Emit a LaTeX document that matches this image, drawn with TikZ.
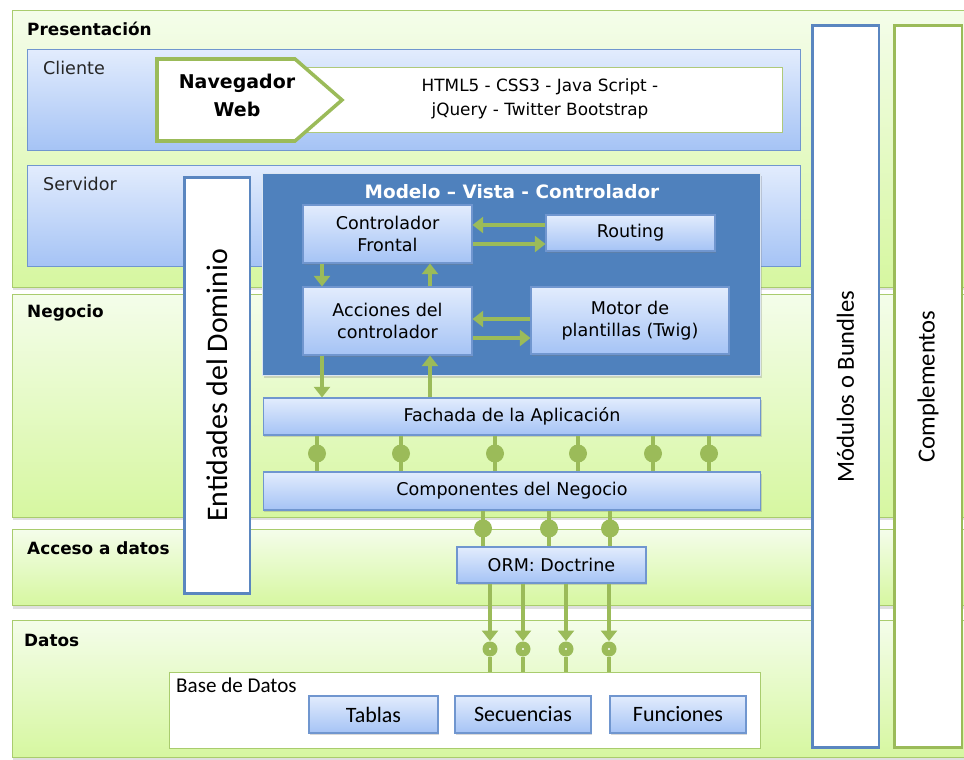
\documentclass[tikz,border=0pt]{standalone}
\usepackage{fontspec}
\setmainfont{DejaVu Sans}
\newfontfamily\calibrifont{Carlito}
\usetikzlibrary{arrows.meta,shadows}

\definecolor{bandline}{HTML}{A9CC6E}
\definecolor{bandtop}{HTML}{F4FDEA}
\definecolor{bandbottom}{HTML}{D6F7A0}
\definecolor{boxtop}{HTML}{E2ECFD}
\definecolor{boxbottom}{HTML}{A5C3F5}
\definecolor{boxline}{HTML}{7096CF}
\definecolor{mvcblue}{HTML}{4F81BD}
\definecolor{linkgreen}{HTML}{9BBB59}
\definecolor{sideblue}{HTML}{5A86C0}

\tikzset{
  band/.style={draw=bandline, line width=0.8pt, top color=bandtop, bottom color=bandbottom,
    anchor=north west, inner sep=0pt,
    drop shadow={shadow xshift=0pt, shadow yshift=-1.6pt, opacity=0.25}},
  panel/.style={draw=boxline, line width=0.7pt, top color=boxtop, bottom color=boxbottom,
    anchor=north west, inner sep=0pt},
  block/.style={draw=boxline, line width=0.6pt, top color=boxtop, bottom color=boxbottom,
    align=center, inner sep=0pt, font=\fontsize{10}{12.5}\selectfont,
    drop shadow={shadow xshift=0.8pt, shadow yshift=-1.2pt, opacity=0.3}},
  dbitem/.style={block, font=\calibrifont\fontsize{12.5}{14}\selectfont},
  layer/.style={anchor=west, font=\bfseries\fontsize{9.6}{11}\selectfont},
  part/.style={anchor=west, font=\fontsize{10}{12}\selectfont, text=black!85},
  sidebar/.style={draw=#1, line width=1.7pt, fill=white, rotate=90, inner sep=0pt,
    font=\calibrifont\fontsize{14}{16}\selectfont},
  flow/.style={draw=linkgreen, line width=2.1pt, -{Triangle[length=6pt,width=9pt]}},
  bus/.style={draw=linkgreen, line width=2.4pt},
  joint/.style={circle, fill=linkgreen, minimum size=0.36cm, inner sep=0pt},
  port/.style={circle, fill=linkgreen, minimum size=0.3cm, inner sep=0pt,
    path picture={\fill[white] (path picture bounding box.center) circle (0.7pt);}}
}

\begin{document}
\begin{tikzpicture}[x=0.02cm,y=-0.02cm]
  \useasboundingbox (0,0) rectangle (964,760);
  \fill[white] (0,0) rectangle (964,760);

  % the four layers
  \node[band, minimum width=19.08cm, minimum height=5.54cm] (presentacion) at (12,10) {};
  \node[band, minimum width=19.08cm, minimum height=4.46cm] (negocio) at (12,294) {};
  \node[band, minimum width=19.08cm, minimum height=1.52cm] (acceso) at (12,529) {};
  \node[band, minimum width=19.08cm, minimum height=2.74cm] (datos) at (12,620) {};
  \node[layer] at (21,29) {Presentación};
  \node[layer] at (21,313) {Negocio};
  \node[layer] at (21,548) {Acceso a datos};
  \node[layer] at (18,640) {Datos};

  % client and server
  \node[panel, minimum width=15.46cm, minimum height=2.02cm] (cliente) at (27,49) {};
  \node[panel, minimum width=15.46cm, minimum height=2.02cm] (servidor) at (27,165) {};
  \node[part] at (37,68) {Cliente};
  \node[part] at (37,184) {Servidor};

  % browser and its technologies
  \node[draw=linkgreen!80, line width=0.6pt, fill=white, anchor=north west, inner sep=0pt,
    minimum width=9.64cm, minimum height=1.3cm] (tecnologias) at (300,67) {};
  \node[align=center, font=\fontsize{9.6}{13.7}\selectfont] at (540,99)
    {HTML5 - CSS3 - Java Script -\\jQuery - Twitter Bootstrap};
  \draw[draw=linkgreen, line width=2pt, fill=white, line join=miter]
    (157,59) -- (295,59) -- (342,100) -- (295,141) -- (157,141) -- cycle;
  \node[align=center, font=\bfseries\fontsize{10.8}{16}\selectfont] (navegador) at (237,95)
    {Navegador\\Web};

  % domain entities
  \node[sidebar=sideblue, minimum width=8.34cm, minimum height=1.32cm,
    font=\calibrifont\fontsize{17}{19}\selectfont] (entidades) at (217,385.5) {Entidades del Dominio};

  % MVC
  \node[draw=white!80!mvcblue, line width=0.6pt, fill=mvcblue, anchor=north west, inner sep=0pt,
    minimum width=9.96cm, minimum height=4.04cm,
    drop shadow={shadow xshift=0.8pt, shadow yshift=-1.2pt, opacity=0.3}] (mvc) at (262,173) {};
  \node[text=white, font=\bfseries\fontsize{10.5}{12}\selectfont] at (512,192)
    {Modelo -- Vista - Controlador};
  \node[block, minimum width=3.38cm, minimum height=1.16cm] (frontal) at (387.5,234) {Controlador\\Frontal};
  \node[block, minimum width=3.38cm, minimum height=0.72cm] (routing) at (630.5,233) {Routing};
  \node[block, minimum width=3.38cm, minimum height=1.36cm] (acciones) at (387.5,321) {Acciones del\\controlador};
  \node[block, minimum width=3.96cm, minimum height=1.34cm] (motor) at (630,320.5) {Motor de\\plantillas (Twig)};

  \draw[flow] (routing.west |- 0,225) -- (frontal.east |- 0,225);
  \draw[flow] (frontal.east |- 0,244) -- (routing.west |- 0,244);
  \draw[flow] (322,0 |- frontal.south) -- (322,0 |- acciones.north);
  \draw[flow] (430,0 |- acciones.north) -- (430,0 |- frontal.south);
  \draw[flow] (motor.west |- 0,319) -- (acciones.east |- 0,319);
  \draw[flow] (acciones.east |- 0,338) -- (motor.west |- 0,338);

  % business
  \node[block, minimum width=9.96cm, minimum height=0.74cm] (fachada) at (512,416.5) {Fachada de la Aplicación};
  \node[block, minimum width=9.96cm, minimum height=0.76cm] (componentes) at (512,491) {Componentes del Negocio};
  \draw[flow] (322,0 |- acciones.south) -- (322,0 |- fachada.north);
  \draw[flow] (430,0 |- fachada.north) -- (430,0 |- acciones.south);
  \foreach \x in {317,401,495,578,653,709}
    \draw[bus] (\x,0 |- fachada.south) -- (\x,0 |- componentes.north) node[joint, midway] {};

  % data access
  \node[block, minimum width=3.78cm, minimum height=0.72cm] (orm) at (551.5,565) {ORM: Doctrine};
  \foreach \x in {483,549,610}
    \draw[bus] (\x,0 |- componentes.south) -- (\x,0 |- orm.north) node[joint, midway] {};

  % database
  \node[draw=bandline, line width=0.8pt, fill=white, anchor=north west, inner sep=0pt,
    minimum width=11.82cm, minimum height=1.52cm] (db) at (169,672) {};
  \node[anchor=west, font=\calibrifont\fontsize{12}{14}\selectfont] at (170,685) {Base de Datos};
  \node[dbitem, minimum width=2.58cm, minimum height=0.74cm] (tablas) at (373.5,714.5) {Tablas};
  \node[dbitem, minimum width=2.72cm, minimum height=0.74cm] (secuencias) at (523,714.5) {Secuencias};
  \node[dbitem, minimum width=2.72cm, minimum height=0.74cm] (funciones) at (678,714.5) {Funciones};
  \foreach \x in {490,523,566,609} {
    \node[port] (p\x) at (\x,649) {};
    \draw[flow, line width=2.3pt] (\x,0 |- orm.south) -- (p\x.north);
    \draw[bus, line width=2.3pt] (p\x.south) -- (\x,0 |- db.north);
  }

  % bundles and add-ons
  \node[sidebar=sideblue, minimum width=14.46cm, minimum height=1.34cm] (modulos) at (845.5,386.5) {Módulos o Bundles};
  \node[sidebar=linkgreen, minimum width=14.46cm, minimum height=1.36cm] (complementos) at (928,386.5) {Complementos};
\end{tikzpicture}
\end{document}
